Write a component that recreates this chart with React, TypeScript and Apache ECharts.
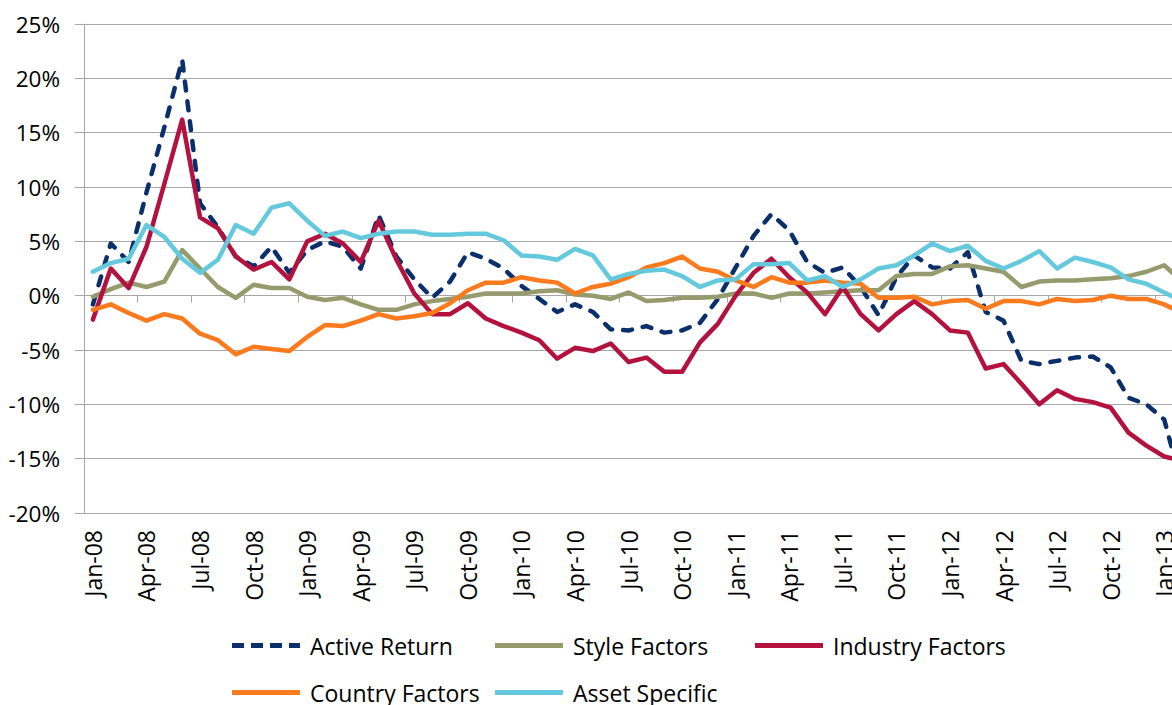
import React, { useEffect, useRef } from "react";
import * as echarts from "echarts";

const categories = [
  "Jan-08","Feb-08","Mar-08","Apr-08","May-08","Jun-08","Jul-08","Aug-08","Sep-08","Oct-08","Nov-08","Dec-08",
  "Jan-09","Feb-09","Mar-09","Apr-09","May-09","Jun-09","Jul-09","Aug-09","Sep-09","Oct-09","Nov-09","Dec-09",
  "Jan-10","Feb-10","Mar-10","Apr-10","May-10","Jun-10","Jul-10","Aug-10","Sep-10","Oct-10","Nov-10","Dec-10",
  "Jan-11","Feb-11","Mar-11","Apr-11","May-11","Jun-11","Jul-11","Aug-11","Sep-11","Oct-11","Nov-11","Dec-11",
  "Jan-12","Feb-12","Mar-12","Apr-12","May-12","Jun-12","Jul-12","Aug-12","Sep-12","Oct-12","Nov-12","Dec-12",
  "Jan-13","Feb-13",
];

const activeReturn = [
  -0.8, 4.8, 3.1, 9.5, 15.5, 21.7, 8.5, 6.3, 3.6, 2.7,
  4.5, 2.1, 4.2, 5.0, 4.5, 2.5, 7.4, 3.6, 1.5, -0.2,
  1.3, 4.0, 3.4, 2.5, 0.9, -0.3, -1.5, -0.8, -1.5, -3.1,
  -3.2, -2.8, -3.4, -3.2, -2.5, -0.3, 2.6, 5.5, 7.5, 6.0,
  3.1, 2.1, 2.6, 0.8, -1.8, 1.7, 3.7, 2.6, 2.5, 4.0,
  -1.5, -2.3, -6.0, -6.3, -6.0, -5.7, -5.6, -6.6, -9.4, -10.0,
  -11.4, -17.5,
];

const styleFactors = [
  -0.1, 0.6, 1.2, 0.8, 1.3, 4.2, 2.5, 0.8, -0.2, 1.0,
  0.7, 0.7, -0.1, -0.4, -0.2, -0.8, -1.3, -1.3, -0.8, -0.5,
  -0.3, -0.1, 0.2, 0.2, 0.2, 0.4, 0.5, 0.1, 0.0, -0.3,
  0.3, -0.5, -0.4, -0.2, -0.2, -0.1, 0.2, 0.2, -0.2, 0.2,
  0.2, 0.3, 0.4, 0.5, 0.5, 1.8, 2.0, 2.0, 2.7, 2.8,
  2.5, 2.2, 0.8, 1.3, 1.4, 1.4, 1.5, 1.6, 1.8, 2.2,
  2.8, 1.3,
];

const industryFactors = [
  -2.2, 2.5, 0.7, 4.5, 10.3, 16.2, 7.2, 6.2, 3.6, 2.4,
  3.1, 1.5, 5.0, 5.7, 4.8, 3.1, 6.9, 3.3, 0.2, -1.7,
  -1.7, -0.7, -2.1, -2.8, -3.4, -4.1, -5.8, -4.8, -5.1, -4.4,
  -6.1, -5.7, -7.0, -7.0, -4.3, -2.6, 0.0, 2.1, 3.4, 1.7,
  0.3, -1.7, 0.8, -1.7, -3.2, -1.7, -0.5, -1.7, -3.2, -3.4,
  -6.7, -6.3, -8.1, -10.0, -8.7, -9.5, -9.8, -10.3, -12.6, -13.8,
  -14.8, -15.2,
];

const countryFactors = [
  -1.3, -0.8, -1.6, -2.3, -1.7, -2.1, -3.5, -4.1, -5.4, -4.7,
  -4.9, -5.1, -3.8, -2.7, -2.8, -2.3, -1.7, -2.1, -1.9, -1.6,
  -0.7, 0.5, 1.2, 1.2, 1.7, 1.4, 1.2, 0.2, 0.8, 1.1,
  1.7, 2.6, 3.0, 3.6, 2.5, 2.2, 1.4, 0.8, 1.7, 1.2,
  1.2, 1.4, 1.2, 1.1, -0.2, -0.2, -0.1, -0.8, -0.5, -0.4,
  -1.2, -0.5, -0.5, -0.8, -0.3, -0.5, -0.4, 0.0, -0.3, -0.3,
  -0.8, -1.6,
];

const assetSpecific = [
  2.2, 3.0, 3.4, 6.5, 5.4, 3.4, 2.1, 3.3, 6.5, 5.7,
  8.1, 8.5, 6.9, 5.5, 5.9, 5.3, 5.7, 5.9, 5.9, 5.6,
  5.6, 5.7, 5.7, 5.1, 3.7, 3.6, 3.3, 4.3, 3.7, 1.5,
  2.0, 2.3, 2.4, 1.8, 0.8, 1.4, 1.5, 2.9, 2.9, 3.0,
  1.4, 1.8, 0.8, 1.5, 2.5, 2.8, 3.7, 4.8, 4.1, 4.6,
  3.2, 2.5, 3.2, 4.1, 2.5, 3.5, 3.1, 2.6, 1.5, 1.1,
  0.3, -0.5,
];

const seriesNames = ["Active Return", "Style Factors", "Industry Factors", "Country Factors", "Asset Specific"];
const seriesColors = ["#0b2f6b", "#959b6c", "#b3123f", "#fc7a1e", "#64c9dc"];

const FONT = "'Open Sans', 'Liberation Sans', sans-serif";
const GRID_COLOR = "#a6a6a6";

const SOLID_ICON = "path://M0,0H68V5H0Z";
const DASH_ICON = "path://M0,0H12V5H0Z M19,0H31V5H19Z M38,0H50V5H38Z M57,0H68V5H57Z";

export default function App() {
  const ref = useRef<HTMLDivElement>(null);

  useEffect(() => {
    if (!ref.current) return;
    document.documentElement.style.overflow = "hidden";
    document.body.style.overflow = "hidden";
    document.body.style.margin = "0";
    const chart = echarts.init(ref.current, null, { renderer: "svg" });
    const datasets = [activeReturn, styleFactors, industryFactors, countryFactors, assetSpecific];

    const legendPos = [
      { left: 232, top: 634 },
      { left: 495, top: 634 },
      { left: 755, top: 634 },
      { left: 232, top: 681 },
      { left: 495, top: 681 },
    ];

    const option: any = {
      animation: false,
      backgroundColor: "#ffffff",
      textStyle: { fontFamily: FONT },
      grid: { left: 84, top: 24, right: 0, bottom: 192, containLabel: false },
      legend: seriesNames.map((n, i) => ({
        data: [{ name: n, icon: i === 0 ? DASH_ICON : SOLID_ICON }],
        left: legendPos[i].left,
        top: legendPos[i].top,
        itemWidth: 68,
        itemHeight: 5,
        padding: 0,
        itemStyle: { borderWidth: 0 },
        textStyle: { fontFamily: FONT, fontSize: 23, color: "#000", padding: [0, 0, 0, 5] },
      })),
      xAxis: [
        {
          type: "category",
          data: categories,
          boundaryGap: true,
          axisLine: { show: true, onZero: true, lineStyle: { color: GRID_COLOR, width: 1 } },
          axisTick: { show: true, interval: 2, length: 7, lineStyle: { color: GRID_COLOR } },
          axisLabel: { show: false },
          splitLine: { show: false },
        },
        {
          type: "category",
          data: categories,
          position: "bottom",
          boundaryGap: true,
          axisLine: { show: false, onZero: false },
          axisTick: { show: false },
          axisLabel: {
            show: true,
            interval: 2,
            rotate: 90,
            margin: 17,
            fontFamily: FONT,
            fontSize: 23,
            color: "#000",
          },
          splitLine: { show: false },
        },
      ],
      yAxis: {
        type: "value",
        min: -20,
        max: 25,
        interval: 5,
        axisLine: { show: true, lineStyle: { color: GRID_COLOR, width: 1 } },
        axisTick: { show: true, length: 9, lineStyle: { color: GRID_COLOR } },
        axisLabel: {
          formatter: (v: number) => `${v}%`,
          margin: 24,
          fontFamily: FONT,
          fontSize: 22.5,
          color: "#000",
        },
        splitLine: { show: true, lineStyle: { color: GRID_COLOR, width: 1 } },
      },
      series: seriesNames.map((n, i) => ({
        name: n,
        type: "line",
        xAxisIndex: 0,
        data: datasets[i],
        symbol: "none",
        showSymbol: false,
        smooth: false,
        color: seriesColors[i],
        lineStyle: {
          color: seriesColors[i],
          width: 4.5,
          type: i === 0 ? [9, 11] : "solid",
          cap: "round",
          join: "round",
        },
      })),
    };

    chart.setOption(option);
    return () => chart.dispose();
  }, []);

  return (
    <div
      ref={ref}
      style={{ position: "fixed", left: 0, top: 0, width: 1191, height: 705, background: "#fff" }}
    />
  );
}
